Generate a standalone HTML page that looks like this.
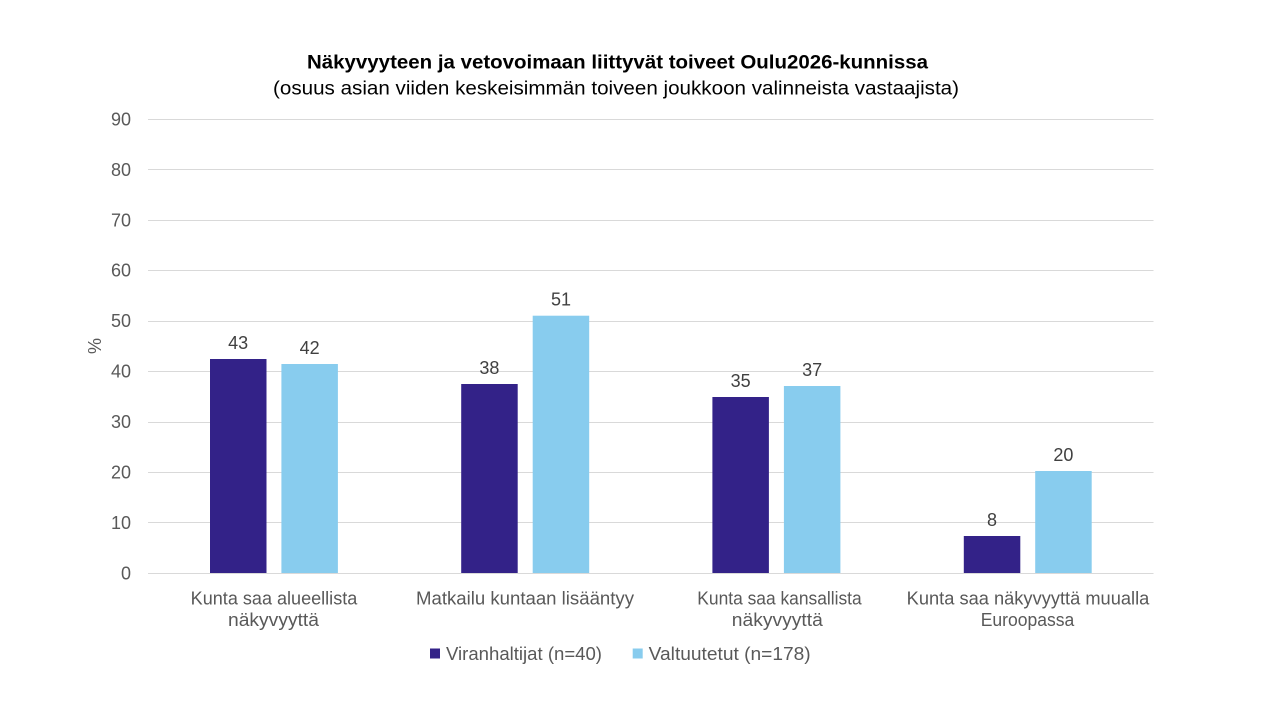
<!DOCTYPE html>
<html>
<head>
<meta charset="utf-8">
<style>
  html, body { margin: 0; padding: 0; background: #ffffff; }
  svg { display: block; }
  text { font-family: "Liberation Sans", Arial, sans-serif; }
</style>
</head>
<body>
<svg width="1280" height="720" viewBox="0 0 1280 720" xmlns="http://www.w3.org/2000/svg">
  <rect x="0" y="0" width="1280" height="720" fill="#ffffff"/>

  <!-- Title -->
  <text x="617.5" y="68.5" text-anchor="middle" font-size="19" font-weight="bold" fill="#000000" textLength="621" lengthAdjust="spacingAndGlyphs">Näkyvyyteen ja vetovoimaan liittyvät toiveet Oulu2026-kunnissa</text>
  <text x="616" y="94.5" text-anchor="middle" font-size="19" fill="#000000" textLength="686" lengthAdjust="spacingAndGlyphs">(osuus asian viiden keskeisimmän toiveen joukkoon valinneista vastaajista)</text>

  <!-- Gridlines -->
  <g stroke="#d9d9d9" stroke-width="1">
    <line x1="148" y1="119.5" x2="1153.5" y2="119.5"/>
    <line x1="148" y1="169.5" x2="1153.5" y2="169.5"/>
    <line x1="148" y1="220.5" x2="1153.5" y2="220.5"/>
    <line x1="148" y1="270.5" x2="1153.5" y2="270.5"/>
    <line x1="148" y1="321.5" x2="1153.5" y2="321.5"/>
    <line x1="148" y1="371.5" x2="1153.5" y2="371.5"/>
    <line x1="148" y1="422.5" x2="1153.5" y2="422.5"/>
    <line x1="148" y1="472.5" x2="1153.5" y2="472.5"/>
    <line x1="148" y1="522.5" x2="1153.5" y2="522.5"/>
  </g>

  <!-- Y tick labels -->
  <g font-size="18" fill="#595959" text-anchor="end">
    <text x="131" y="125.5">90</text>
    <text x="131" y="175.8">80</text>
    <text x="131" y="226.3">70</text>
    <text x="131" y="276.7">60</text>
    <text x="131" y="327.2">50</text>
    <text x="131" y="377.6">40</text>
    <text x="131" y="428.1">30</text>
    <text x="131" y="478.5">20</text>
    <text x="131" y="529">10</text>
    <text x="131" y="579.5">0</text>
  </g>

  <!-- Y axis title -->
  <text transform="translate(101,346) rotate(-90)" text-anchor="middle" font-size="18" fill="#595959">%</text>

  <!-- Bars -->
  <g fill="#332288">
    <rect x="210" y="359" width="56.5" height="214.5"/>
    <rect x="461.2" y="384" width="56.5" height="189.5"/>
    <rect x="712.4" y="397" width="56.5" height="176.5"/>
    <rect x="963.8" y="536" width="56.5" height="37.5"/>
  </g>
  <g fill="#88ccee">
    <rect x="281.4" y="364" width="56.5" height="209.5"/>
    <rect x="532.7" y="315.7" width="56.5" height="257.8"/>
    <rect x="783.9" y="386" width="56.5" height="187.5"/>
    <rect x="1035.2" y="471" width="56.5" height="102.5"/>
  </g>

  <!-- Axis line -->
  <line x1="148" y1="573.5" x2="1153.5" y2="573.5" stroke="#d9d9d9" stroke-width="1"/>

  <!-- Data labels -->
  <g font-size="18" fill="#404040" text-anchor="middle">
    <text x="238.2" y="349">43</text>
    <text x="309.6" y="354">42</text>
    <text x="489.4" y="374">38</text>
    <text x="561" y="305.7">51</text>
    <text x="740.6" y="387">35</text>
    <text x="812.1" y="376">37</text>
    <text x="992" y="526">8</text>
    <text x="1063.4" y="461">20</text>
  </g>

  <!-- Category labels -->
  <g font-size="18" fill="#595959" text-anchor="middle">
    <text x="274" y="604.5" textLength="166.6" lengthAdjust="spacingAndGlyphs">Kunta saa alueellista</text>
    <text x="273.5" y="626" textLength="91" lengthAdjust="spacingAndGlyphs">näkyvyyttä</text>
    <text x="525" y="604.5" textLength="218" lengthAdjust="spacingAndGlyphs">Matkailu kuntaan lisääntyy</text>
    <text x="779.5" y="604.5" textLength="164.4" lengthAdjust="spacingAndGlyphs">Kunta saa kansallista</text>
    <text x="777.3" y="626" textLength="91" lengthAdjust="spacingAndGlyphs">näkyvyyttä</text>
    <text x="1028" y="604.5" textLength="242.6" lengthAdjust="spacingAndGlyphs">Kunta saa näkyvyyttä muualla</text>
    <text x="1027.5" y="626" textLength="93.6" lengthAdjust="spacingAndGlyphs">Euroopassa</text>
  </g>

  <!-- Legend -->
  <rect x="430" y="648.5" width="10" height="10" fill="#332288"/>
  <text x="446" y="660" font-size="18" fill="#595959" textLength="156" lengthAdjust="spacingAndGlyphs">Viranhaltijat (n=40)</text>
  <rect x="632.7" y="648.5" width="10" height="10" fill="#88ccee"/>
  <text x="648.7" y="660" font-size="18" fill="#595959" textLength="162" lengthAdjust="spacingAndGlyphs">Valtuutetut (n=178)</text>
</svg>
</body>
</html>
